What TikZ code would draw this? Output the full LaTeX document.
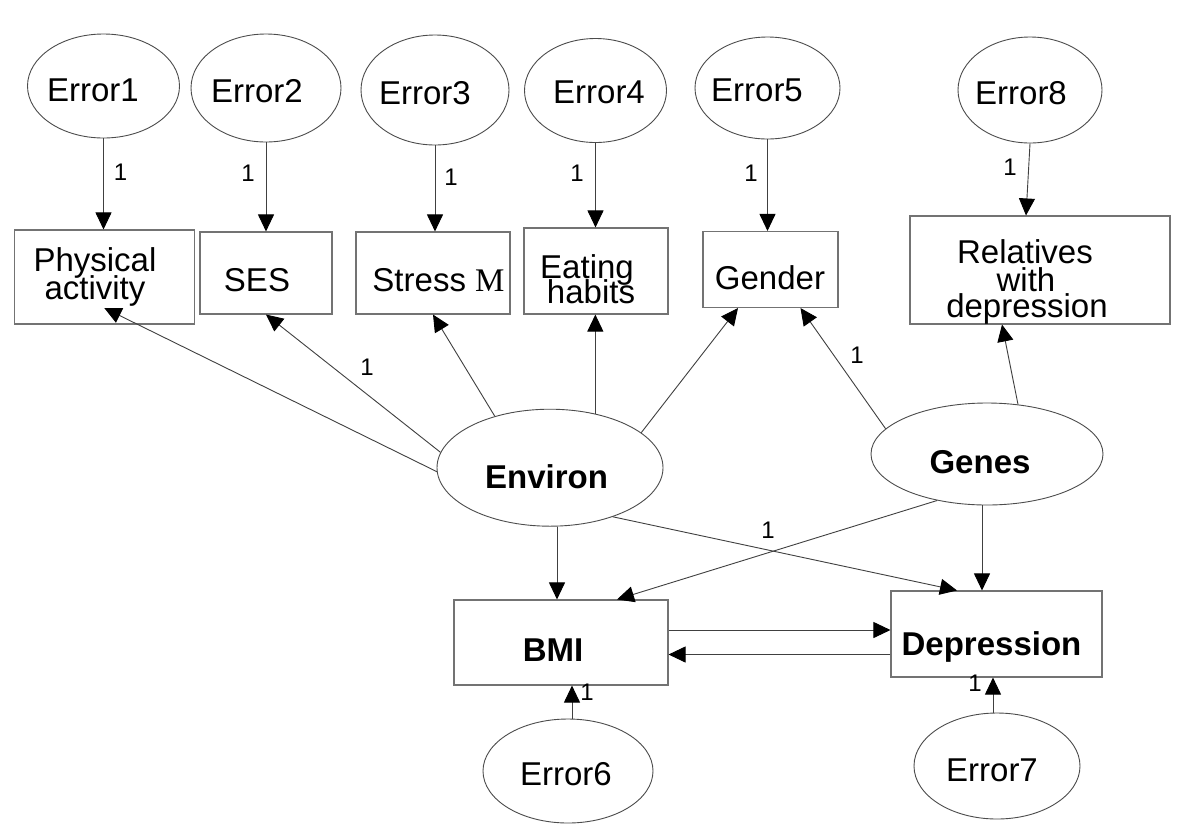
\documentclass[tikz,border=0pt]{standalone}
\usepackage{fontspec}
\setmainfont{Liberation Sans}
\newfontfamily\serifM{Liberation Serif}
\usetikzlibrary{arrows.meta,shapes.geometric}
\newcommand\tl[3]{\rlap{\hspace*{#1}\raisebox{#2}{\makebox[0pt]{#3}}}}
\tikzset{
  ell/.style={ellipse, draw=black!70, line width=0.9pt, inner sep=0pt,
    text height=0pt, text depth=0pt, font=\fontsize{33}{40}\selectfont},
  bx/.style={rectangle, draw=black!55, line width=1.1pt, inner sep=0pt,
    text height=0pt, text depth=0pt, font=\fontsize{33}{40}\selectfont},
  bld/.style={font=\fontsize{33}{40}\selectfont\bfseries},
  lab/.style={inner sep=0pt, font=\fontsize{24}{28}\selectfont},
  arr/.style={draw=black!75, line width=0.9pt,
    -{Triangle[length=17pt,width=16pt,color=black]}}
}
\begin{document}
\begin{tikzpicture}[x=1pt,y=-1pt]
\fill[white] (0,0) rectangle (1200,831);
\useasboundingbox (0,0) rectangle (1200,831);

% error ellipses (top)
\node[ell, minimum width=152pt, minimum height=104pt] (err1) at (103.5,86) {\tl{-10.5pt}{-15pt}{Error1}};
\node[ell, minimum width=150pt, minimum height=108pt] (err2) at (266,88) {\tl{-9pt}{-14.7pt}{Error2}};
\node[ell, minimum width=148pt, minimum height=110pt] (err3) at (435,90) {\tl{-10pt}{-14pt}{Error3}};
\node[ell, minimum width=142pt, minimum height=104pt] (err4) at (595.5,90.5) {\tl{3.5pt}{-12.5pt}{Error4}};
\node[ell, minimum width=145pt, minimum height=102pt] (err5) at (767.5,88) {\tl{-10.5pt}{-13.7pt}{Error5}};
\node[ell, minimum width=144pt, minimum height=106pt] (err8) at (1030,90) {\tl{-9pt}{-14pt}{Error8}};

% observed boxes (top)
\node[bx, minimum width=180pt, minimum height=94pt] (phys) at (104.3,277)
  {\tl{-9.3pt}{6pt}{Physical}\tl{-9.3pt}{-22pt}{activity}};
\node[bx, minimum width=132pt, minimum height=82pt] (ses) at (266,273) {\tl{-9pt}{-18.7pt}{SES}};
\node[bx, minimum width=154pt, minimum height=82pt] (stress) at (433,273) {\tl{5.5pt}{-18.7pt}{Stress {\serifM M}}};
\node[bx, minimum width=144pt, minimum height=86pt] (eat) at (596,271)
  {\tl{-9pt}{-7pt}{Eating}\tl{-5pt}{-32pt}{habits}};
\node[bx, minimum width=135pt, minimum height=76pt] (gender) at (770.5,269.5) {\tl{-0.5pt}{-19.5pt}{Gender}};
\node[bx, minimum width=260pt, minimum height=108pt] (rel) at (1040,270)
  {\tl{-15pt}{7pt}{Relatives}\tl{-14pt}{-21pt}{with}\tl{-13pt}{-47pt}{depression}};

% latent ellipses
\node[ell, bld, minimum width=226pt, minimum height=117pt] (env) at (550,467.7) {\tl{-3.5pt}{-20.3pt}{Environ}};
\node[ell, bld, minimum width=232pt, minimum height=102pt] (genes) at (987,454) {\tl{-7pt}{-19pt}{Genes}};

% outcome boxes
\node[bx, bld, minimum width=214pt, minimum height=85pt] (bmi) at (561,642.5) {\tl{-8pt}{-18.5pt}{BMI}};
\node[bx, bld, minimum width=211pt, minimum height=86pt] (dep) at (996.5,634) {\tl{-5pt}{-21pt}{Depression}};

% error ellipses (bottom)
\node[ell, minimum width=170pt, minimum height=104pt] (err6) at (568,771) {\tl{-2pt}{-14pt}{Error6}};
\node[ell, minimum width=166pt, minimum height=106pt] (err7) at (997,766) {\tl{-5pt}{-15pt}{Error7}};

% error arrows (top)
\draw[arr] (err1) -- (err1 |- phys.north);
\draw[arr] (err2) -- (err2 |- ses.north);
\draw[arr] (err3) -- (err3 |- stress.north);
\draw[arr] (err4) -- (err4 |- eat.north);
\draw[arr] (err5) -- (err5 |- gender.north);
\draw[arr] (err8.south) -- ([xshift=-14pt]rel.north);

% Environ loadings
\draw[arr] (env.182) -- ([yshift=-31pt]phys.center);
\draw[arr] (env.172) -- (ses.south);
\draw[arr] (env.137) -- (stress.south);
\draw[arr] (env.50.7) -- (env.50.7 |- eat.south);
\draw[arr] (env.21.4) -- ([xshift=-32.5pt]gender.south);

% Genes loadings
\draw[arr] (genes.166) -- ([xshift=30pt]gender.south);
\draw[arr] (genes.58) -- ([xshift=-38pt]rel.south);

% structural paths
\draw[arr] ([xshift=7pt]env.south) -- ([xshift=-4pt]bmi.north);
\draw[arr] (env.-38) -- ([xshift=-39.5pt]dep.north);
\draw[arr] (genes.223) -- ([xshift=56pt]bmi.north);
\draw[arr] ([xshift=-5pt]genes.south) -- ([xshift=-14.5pt]dep.north);
\draw[arr] ([yshift=12.5pt]bmi.east) -- ([yshift=12.5pt]bmi.east -| dep.west);
\draw[arr] ([yshift=-20.5pt]dep.west) -- ([yshift=-20.5pt]dep.west -| bmi.east);

% error arrows (bottom)
\draw[arr] ([xshift=4pt]err6.north) -- ([xshift=4pt]err6.north |- bmi.south);
\draw[arr] ([xshift=-4pt]err7.north) -- ([xshift=-4pt]err7.north |- dep.south);

% path labels
\node[lab] (l1) at (120.5,172) {1};
\node[lab] (l2) at (248,173) {1};
\node[lab] (l3) at (451,177) {1};
\node[lab] (l4) at (577,173) {1};
\node[lab] (l5) at (751,173) {1};
\node[lab] (l8) at (1010,167) {1};
\node[lab] (lses) at (367,367) {1};
\node[lab] (lgen) at (857,355) {1};
\node[lab] (ldep) at (768,530) {1};
\node[lab] (l6) at (587,692) {1};
\node[lab] (l7) at (975,683) {1};
\end{tikzpicture}
\end{document}
